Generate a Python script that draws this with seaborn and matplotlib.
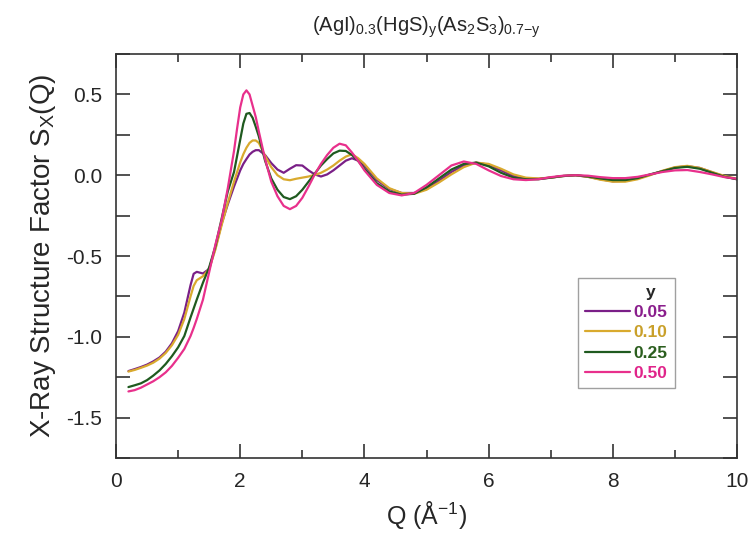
import numpy as np
import pandas as pd
import matplotlib
matplotlib.use("Agg")
import matplotlib.pyplot as plt
from matplotlib.ticker import MultipleLocator
import seaborn as sns

# Q grid (1/Angstrom) shared by all curves
q = [0.2, 0.3, 0.4, 0.5, 0.6, 0.7, 0.8, 0.9, 1.0, 1.1, 1.2, 1.25, 1.3, 1.4,
     1.5, 1.6, 1.7, 1.8, 1.9, 1.95, 2.0, 2.05, 2.1, 2.15, 2.2, 2.25, 2.3,
     2.4, 2.5, 2.6, 2.7, 2.8, 2.9,
     3.0, 3.1, 3.2, 3.3, 3.4, 3.5, 3.6, 3.7, 3.8, 3.9, 4.0,
     4.2, 4.4, 4.6, 4.8, 5.0, 5.2, 5.4, 5.6, 5.8, 6.0, 6.2, 6.4, 6.6, 6.8,
     7.0, 7.2, 7.4, 7.6, 7.8, 8.0, 8.2, 8.4, 8.6, 8.8, 9.0, 9.2, 9.4, 9.6,
     9.8, 10.0]

s_005 = [-1.212, -1.200, -1.187, -1.172, -1.152, -1.128, -1.092, -1.040, -0.965,
         -0.850, -0.680, -0.610, -0.598, -0.608, -0.580, -0.450, -0.300, -0.180,
         -0.070, -0.020, 0.030, 0.070, 0.100, 0.128, 0.145, 0.155, 0.155,
         0.125, 0.075, 0.035, 0.015, 0.040, 0.062,
         0.060, 0.030, 0.005, -0.008, 0.005, 0.030, 0.060, 0.090, 0.105, 0.090,
         0.060,
         -0.030, -0.085, -0.110, -0.110, -0.085, -0.035, 0.020, 0.060, 0.078,
         0.065, 0.030, -0.005, -0.020, -0.022, -0.015, -0.005, 0.000, -0.010,
         -0.025, -0.038, -0.035, -0.020, 0.003, 0.025, 0.048, 0.056, 0.045,
         0.018, -0.008, -0.025]

s_010 = [-1.215, -1.205, -1.192, -1.178, -1.160, -1.135, -1.100, -1.052, -0.988,
         -0.890, -0.750, -0.685, -0.650, -0.625, -0.580, -0.460, -0.310, -0.170,
         -0.040, 0.020, 0.080, 0.130, 0.170, 0.200, 0.215, 0.215, 0.200,
         0.120, 0.050, 0.000, -0.025, -0.031, -0.022,
         -0.015, -0.008, 0.002, 0.015, 0.035, 0.060, 0.090, 0.115, 0.130, 0.105,
         0.070,
         -0.020, -0.080, -0.110, -0.115, -0.090, -0.045, 0.005, 0.050, 0.078,
         0.070, 0.040, 0.005, -0.015, -0.020, -0.015, -0.005, 0.000, -0.010,
         -0.028, -0.040, -0.040, -0.025, 0.000, 0.028, 0.050, 0.058, 0.045,
         0.020, -0.005, -0.022]

s_025 = [-1.311, -1.300, -1.288, -1.268, -1.240, -1.208, -1.168, -1.120, -1.065,
         -0.995, -0.880, -0.825, -0.770, -0.665, -0.570, -0.440, -0.270, -0.100,
         0.020, 0.120, 0.220, 0.320, 0.380, 0.385, 0.355, 0.300, 0.240,
         0.090, -0.020, -0.090, -0.135, -0.148, -0.130,
         -0.090, -0.040, 0.010, 0.060, 0.100, 0.135, 0.152, 0.150, 0.125,
         0.088, 0.040,
         -0.050, -0.100, -0.120, -0.115, -0.075, -0.020, 0.035, 0.070, 0.078,
         0.055, 0.015, -0.015, -0.025, -0.025, -0.015, -0.005, 0.000, -0.008,
         -0.020, -0.030, -0.030, -0.018, 0.005, 0.025, 0.045, 0.052, 0.040,
         0.015, -0.010, -0.025]

s_050 = [-1.338, -1.330, -1.315, -1.295, -1.275, -1.250, -1.220, -1.180, -1.130,
         -1.075, -0.995, -0.945, -0.890, -0.770, -0.600, -0.430, -0.280, -0.080,
         0.150, 0.290, 0.420, 0.500, 0.525, 0.500, 0.430, 0.360, 0.270,
         0.100, -0.040, -0.130, -0.190, -0.210, -0.190,
         -0.140, -0.070, 0.005, 0.070, 0.125, 0.170, 0.195, 0.185, 0.140,
         0.088, 0.030,
         -0.060, -0.110, -0.125, -0.110, -0.060, 0.000, 0.060, 0.085, 0.070,
         0.030, -0.005, -0.025, -0.030, -0.025, -0.012, -0.003, 0.000, -0.003,
         -0.012, -0.018, -0.018, -0.010, 0.005, 0.020, 0.030, 0.032, 0.020,
         0.005, -0.012, -0.022]

y_labels = ["0.05", "0.10", "0.25", "0.50"]
line_colors = ["#7a1f87", "#d9aa2e", "#1f5a1f", "#e8308c"]
text_colors = ["#8a1e8c", "#c9a02a", "#2b5e1e", "#e0248a"]

df = pd.concat([
    pd.DataFrame({"Q": q, "S": s, "y": lab})
    for s, lab in zip([s_005, s_010, s_025, s_050], y_labels)
])

sns.set_style("ticks")
plt.rcParams["font.family"] = ["Liberation Sans", "DejaVu Sans"]
plt.rcParams["mathtext.fontset"] = "custom"
plt.rcParams["mathtext.rm"] = "Liberation Sans"
plt.rcParams["mathtext.it"] = "Liberation Sans"

fig = plt.figure(figsize=(7.5, 5.37), dpi=100)
ax = fig.add_axes([0.1547, 0.1471, 0.828, 0.7523])

sns.lineplot(data=df, x="Q", y="S", hue="y", palette=line_colors,
             linewidth=1.6, ax=ax, legend=False, sort=False)

ax.set_xlim(0, 10)
ax.set_ylim(-1.75, 0.75)
ax.xaxis.set_major_locator(MultipleLocator(2))
ax.xaxis.set_minor_locator(MultipleLocator(1))
ax.yaxis.set_major_locator(MultipleLocator(0.5))
ax.yaxis.set_minor_locator(MultipleLocator(0.25))
ax.yaxis.set_major_formatter(matplotlib.ticker.FormatStrFormatter("%.1f"))
ax.tick_params(which="both", direction="in", top=True, right=True,
               color="#333333", width=1.2)
ax.tick_params(which="major", length=10, labelsize=15, pad=10)
ax.tick_params(which="minor", length=6)
ax.tick_params(axis="y", which="minor", length=10)
for sp in ax.spines.values():
    sp.set_linewidth(1.2)
    sp.set_color("#333333")

ax.set_xlabel("Q ($\\mathrm{\\AA^{-1}}$)", fontsize=18, labelpad=6)
ax.set_ylabel("X-Ray Structure Factor S$_{\\mathrm{X}}$(Q)", fontsize=20, labelpad=6)
ax.set_title("(AgI)$_{0.3}$(HgS)$_{\\mathrm{y}}$(As$_2$S$_3$)$_{0.7\\mathrm{-y}}$",
             fontsize=14.5, pad=16)

handles = [plt.Line2D([], [], color=c, linewidth=1.6) for c in line_colors]
leg = ax.legend(handles, y_labels, title="y", loc="upper left",
                bbox_to_anchor=(0.73, 0.468), frameon=True, fancybox=False,
                edgecolor="#888888", handlelength=2.6, handletextpad=0.2,
                labelspacing=0.3, borderpad=0.4,
                prop={"weight": "bold", "size": 12.5},
                title_fontproperties={"weight": "bold", "size": 12.5})
leg.get_frame().set_linewidth(1.0)
leg._legend_box.align = "right"
leg.get_title().set_position((-12, 0))
for t, c in zip(leg.get_texts(), text_colors):
    t.set_color(c)

fig.savefig("out.png", dpi=100)
